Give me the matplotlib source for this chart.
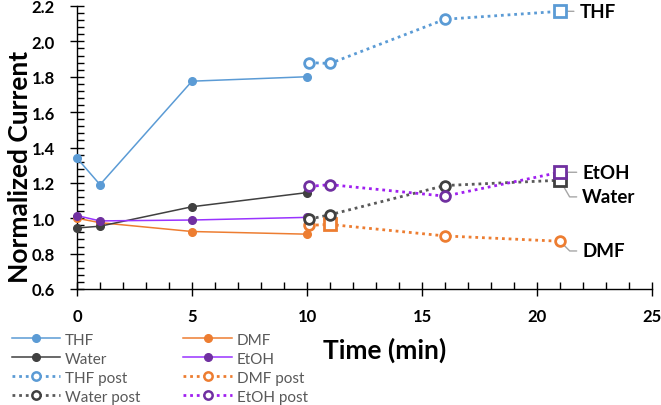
import matplotlib
matplotlib.use("Agg")
import matplotlib.pyplot as plt
from matplotlib.ticker import MultipleLocator

plt.rcParams['font.family'] = ['Lato', 'DejaVu Sans']

# ---- data ----
time_pre = [0, 1, 5, 10]
thf = [1.34, 1.19, 1.775, 1.80]
water = [0.945, 0.955, 1.065, 1.145]
dmf = [1.00, 0.975, 0.925, 0.91]
etoh = [1.015, 0.985, 0.99, 1.005]

time_post = [10.1, 11, 16, 21]
thf_post = [1.88, 1.875, 2.125, 2.17]
water_post = [0.995, 1.02, 1.185, 1.215]
dmf_post = [0.96, 0.965, 0.90, 0.87]
etoh_post = [1.18, 1.19, 1.125, 1.26]

x_ticks = [0, 5, 10, 15, 20, 25]
y_ticks = [0.6, 0.8, 1.0, 1.2, 1.4, 1.6, 1.8, 2.0, 2.2]

# colors
c_thf = '#5B9BD5'
c_dmf = '#ED7D31'
c_water = '#404040'
c_water_dot = '#595959'
c_etoh_line = '#9933FF'
c_etoh_mk = '#7030A0'
c_etoh_dot = '#A020F0'

fig = plt.figure(figsize=(6.61, 4.06), dpi=100)
ax = fig.add_axes([77/661, 1-290/406, (652-77)/661, (290-7)/406])

dot = (0, (1, 1.4))

def solid(x, y, col, mcol, label):
    return ax.plot(x, y, '-', color=col, lw=1.1, marker='o', ms=5.5,
                   mfc=mcol, mec=mcol, label=label, zorder=3)[0]

def post(x, y, lcol, mcol, label, sq):
    idx = [i for i in range(len(x)) if i != sq]
    ax.plot(x, y, linestyle=dot, color=lcol, lw=2.0, label=label, zorder=2)
    ax.plot([x[i] for i in idx], [y[i] for i in idx], linestyle='none', marker='o', ms=7,
            mfc='white', mec=mcol, mew=2.0, zorder=4)
    ax.plot([x[sq]], [y[sq]], linestyle='none', marker='s', ms=8.5,
            mfc='white', mec=mcol, mew=2.0, zorder=4)
    proxy = plt.Line2D([], [], linestyle=dot, color=lcol, lw=2.0, marker='o', ms=6,
                       mfc='white', mec=mcol, mew=1.8)
    return proxy

h_thf = solid(time_pre, thf, c_thf, c_thf, 'THF')
h_dmf = solid(time_pre, dmf, c_dmf, c_dmf, 'DMF')
h_water = solid(time_pre, water, c_water, c_water, 'Water')
h_etoh = solid(time_pre, etoh, c_etoh_line, c_etoh_mk, 'EtOH')

p_thf = post(time_post, thf_post, c_thf, c_thf, 'THF post', 3)
p_dmf = post(time_post, dmf_post, c_dmf, c_dmf, 'DMF post', 1)
p_water = post(time_post, water_post, c_water_dot, c_water, 'Water post', 3)
p_etoh = post(time_post, etoh_post, c_etoh_dot, c_etoh_mk, 'EtOH post', 3)

ax.set_xlim(0, 25)
ax.set_ylim(0.6, 2.2)
ax.set_xticks(x_ticks)
ax.set_yticks(y_ticks)
ax.set_xticklabels([str(t) for t in x_ticks])
ax.set_yticklabels([f'{t:.1f}' for t in y_ticks])
ax.xaxis.set_minor_locator(MultipleLocator(1))
ax.yaxis.set_minor_locator(MultipleLocator(0.04))
for s in ['top', 'right']:
    ax.spines[s].set_visible(False)
for s in ['left', 'bottom']:
    ax.spines[s].set_color('black')
    ax.spines[s].set_linewidth(1.0)
ax.tick_params(which='major', direction='inout', length=10, width=1.0, color='black')
ax.tick_params(which='minor', direction='in', length=5, width=1.0, color='black')
ax.tick_params(axis='y', which='major', pad=11)
ax.tick_params(axis='x', which='major', pad=9)
for lab in ax.get_xticklabels() + ax.get_yticklabels():
    lab.set_fontsize(12)
    lab.set_fontweight('bold')
ax.set_facecolor('none')
for ln in ax.lines:
    ln.set_clip_on(False)

fig.text(20/661, 1-167/406, 'Normalized Current', rotation=90, ha='center', va='center',
         fontsize=19, fontweight='bold')
fig.text(385/661, 1-350/406, 'Time (min)', ha='center', va='center',
         fontsize=19, fontweight='bold')

# data labels with leader lines
lab_kw = dict(fontsize=13.5, fontweight='bold', va='center', ha='left',
              textcoords='offset points', annotation_clip=False)
arrow = dict(arrowstyle='-', color='#A6A6A6', lw=1.0, shrinkA=2, shrinkB=4)
ax.annotate('THF', xy=(time_post[3], thf_post[3]), xytext=(14, 0), arrowprops=arrow, **lab_kw)
ax.annotate('EtOH', xy=(time_post[3], etoh_post[3]), xytext=(16, 0), arrowprops=arrow, **lab_kw)
ax.annotate('Water', xy=(time_post[3], water_post[3]), xytext=(16, -12),
            arrowprops=dict(arrowstyle='-', color='#A6A6A6', lw=1.0, shrinkA=2, shrinkB=4,
                            connectionstyle='angle,angleA=0,angleB=-60,rad=0'), **lab_kw)
ax.annotate('DMF', xy=(time_post[3], dmf_post[3]), xytext=(16, -7),
            arrowprops=dict(arrowstyle='-', color='#A6A6A6', lw=1.0, shrinkA=2, shrinkB=0,
                            connectionstyle='angle,angleA=0,angleB=-45,rad=0'), **lab_kw)

handles = [h_thf, h_water, p_thf, p_water, h_dmf, h_etoh, p_dmf, p_etoh]
labels = ['THF', 'Water', 'THF post', 'Water post', 'DMF', 'EtOH', 'DMF post', 'EtOH post']
leg = fig.legend(handles, labels, ncol=2, loc='upper left', bbox_to_anchor=(7/661, 1-329/406),
                 frameon=False, fontsize=11, handlelength=3.2, handletextpad=0.3,
                 columnspacing=2.8, labelspacing=0.33, borderaxespad=0, borderpad=0.3)
for t in leg.get_texts():
    t.set_color('#595959')

fig.savefig('out.png', dpi=100)
